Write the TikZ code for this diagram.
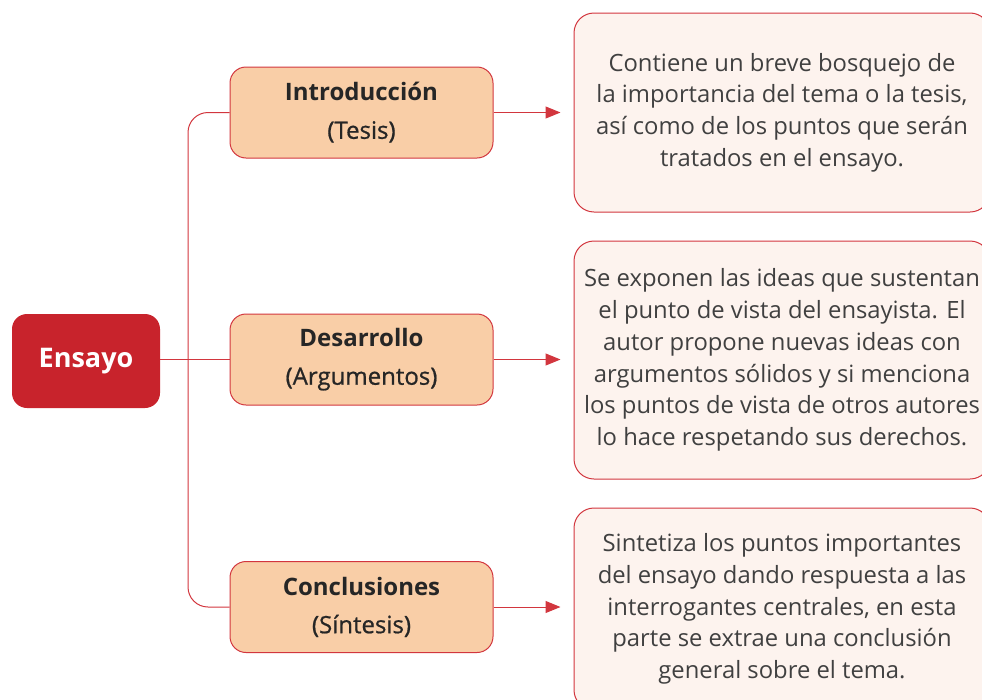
\documentclass[tikz,border=0pt]{standalone}
\usepackage{fontspec}
\setmainfont{Open Sans}
\newfontfamily\medio[FakeBold=0.8]{Open Sans}
\usetikzlibrary{positioning,arrows.meta}
\definecolor{rojo}{HTML}{C8232C}
\definecolor{borde}{HTML}{D2363E}
\definecolor{durazno}{HTML}{F9CEA7}
\definecolor{crema}{HTML}{FDF3EE}
\definecolor{texto}{HTML}{404040}
\begin{document}
\begin{tikzpicture}[x=1pt,y=-1pt,>={Triangle[length=15pt,width=12pt]},
  raiz/.style={fill=rojo,rounded corners=15pt,minimum width=148pt,minimum height=94pt,
    text=white,font=\fontsize{27}{30}\selectfont\bfseries},
  parte/.style={draw=borde,line width=1pt,fill=durazno,rounded corners=16pt,
    minimum width=263pt,minimum height=91pt,align=center,text=black!85,
    font=\fontsize{24}{38}\selectfont},
  detalle/.style={draw=borde,line width=1pt,fill=crema,rounded corners=20pt,
    minimum width=416pt,align=center,text=texto,font=\fontsize{23.8}{31.7}\selectfont},
  enlace/.style={draw=borde,line width=1pt}]
\useasboundingbox (0,0) rectangle (982,699);
\node[raiz] (ensayo) at (86,361) {Ensayo};
\node[parte] (intro) at (361.5,112.5) {\textbf{Introducción}\\{\medio(Tesis)}};
\node[parte] (desa) at (361.5,359.5) {\textbf{Desarrollo}\\{\medio(Argumentos)}};
\node[parte] (concl) at (361.5,607) {\textbf{Conclusiones}\\{\medio(Síntesis)}};
\node[detalle,minimum height=199pt] (txtintro) at (782,112.5)
  {Contiene un breve bosquejo de\\la importancia del tema o la tesis,\\así como de los puntos que serán\\tratados en el ensayo.};
\node[detalle,minimum height=238pt] (txtdesa) at (782,360)
  {Se exponen las ideas que sustentan\\el punto de vista del ensayista. El\\autor propone nuevas ideas con\\argumentos sólidos y si menciona\\los puntos de vista de otros autores\\lo hace respetando sus derechos.};
\node[detalle,minimum height=202pt] (txtconcl) at (782,609)
  {Sintetiza los puntos importantes\\del ensayo dando respuesta a las\\interrogantes centrales, en esta\\parte se extrae una conclusión\\general sobre el tema.};
\coordinate (rama) at (188,360);
\draw[enlace] (ensayo.east |- desa) -- (desa);
\draw[enlace,rounded corners=20pt] (intro.west) -| (rama) |- (concl.west);
\draw[enlace,->] (intro.east) -- ++(67,0);
\draw[enlace,->] (desa.east) -- ++(67,0);
\draw[enlace,->] (concl.east) -- ++(67,0);
\end{tikzpicture}
\end{document}
